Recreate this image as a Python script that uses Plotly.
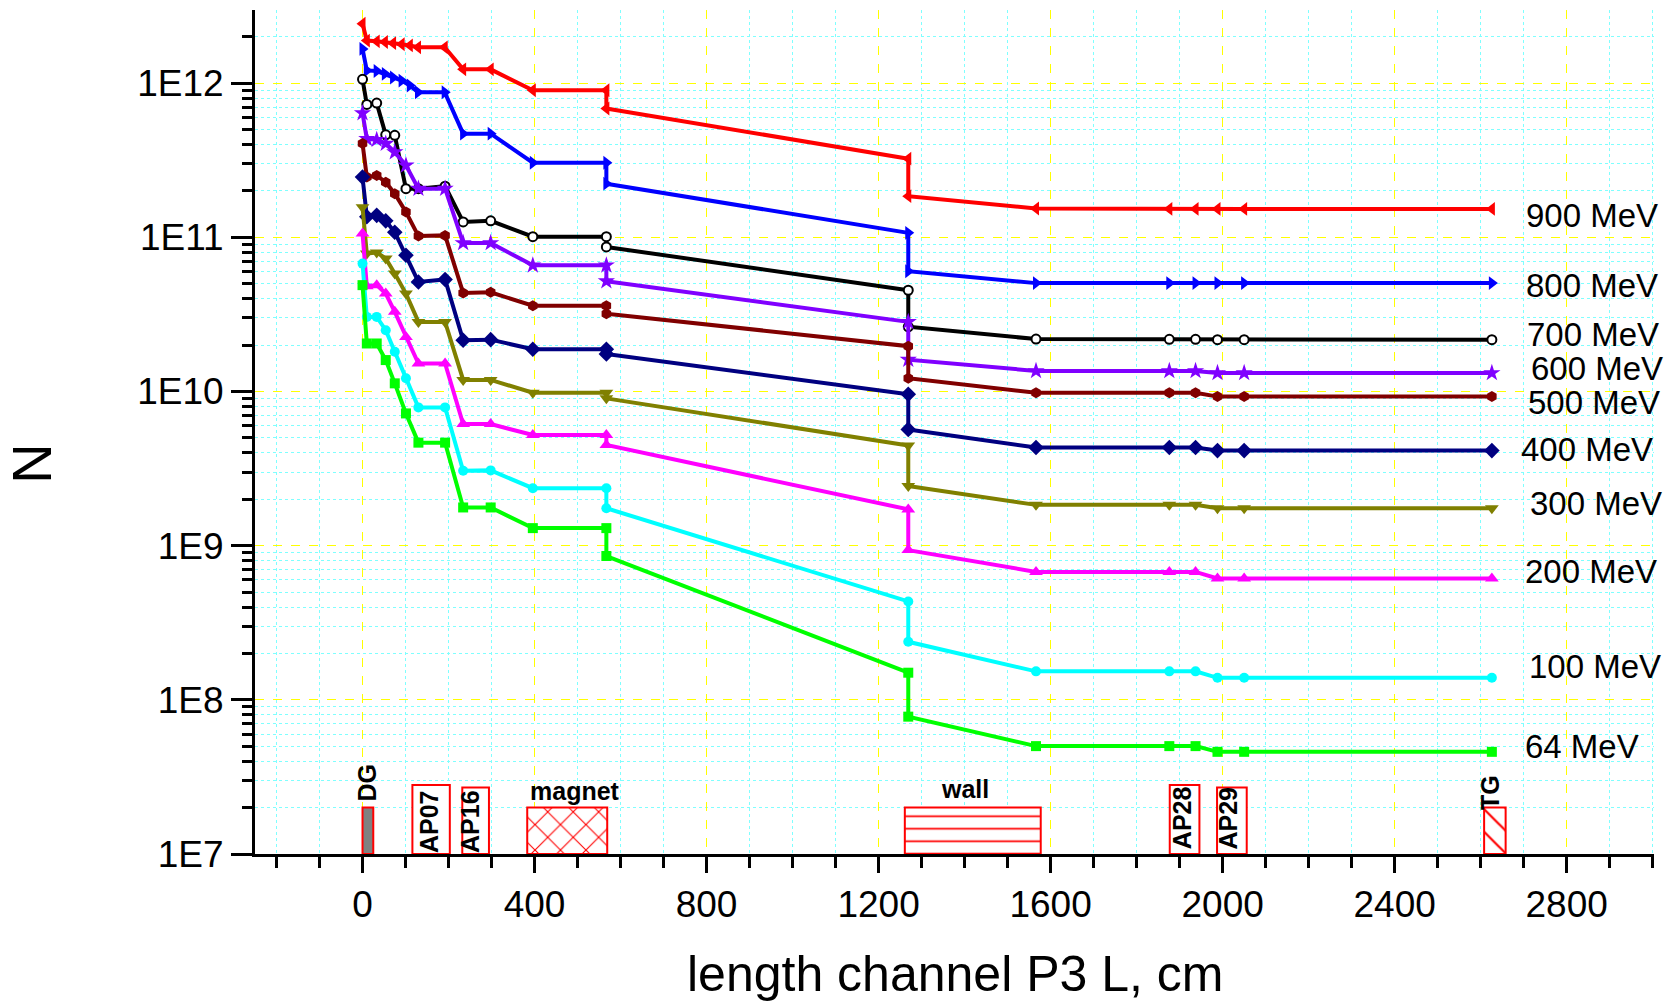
import plotly.graph_objects as go

# ---------------- data ----------------
x_fine = [0, 10, 33, 52, 71, 91, 110, 129, 191, 234, 298, 396, 567, 567, 1269, 1269, 1566, 1876, 1937, 1988, 2050, 2626]
x_std = [0, 10, 33, 54, 75, 101, 130, 192, 234, 298, 396, 567, 567, 1269, 1269, 1566, 1876, 1937, 1988, 2050, 2626]

n900 = [2.43e12, 1.89e12, 1.87e12, 1.85e12, 1.82e12, 1.79e12, 1.76e12, 1.71e12, 1.71e12, 1.23e12, 1.23e12,
        9.0e11, 9.0e11, 6.85e11, 3.24e11, 1.85e11, 1.54e11, 1.53e11, 1.53e11, 1.53e11, 1.53e11, 1.53e11]
n800 = [1.67e12, 1.21e12, 1.20e12, 1.15e12, 1.09e12, 1.04e12, 9.67e11, 8.74e11, 8.74e11, 4.71e11, 4.71e11,
        3.05e11, 3.05e11, 2.23e11, 1.07e11, 6.03e10, 5.05e10, 5.05e10, 5.05e10, 5.05e10, 5.05e10, 5.05e10]
n700 = [1.06e12, 7.28e11, 7.43e11, 4.63e11, 4.59e11, 2.07e11, 2.07e11, 2.15e11, 1.26e11, 1.28e11, 1.01e11,
        1.01e11, 8.67e10, 4.54e10, 2.63e10, 2.19e10, 2.18e10, 2.18e10, 2.17e10, 2.17e10, 2.17e10]
n600 = [6.4e11, 4.36e11, 4.3e11, 4.06e11, 3.57e11, 2.93e11, 2.07e11, 2.07e11, 9.2e10, 9.2e10, 6.59e10,
        6.59e10, 5.2e10, 2.83e10, 1.61e10, 1.36e10, 1.36e10, 1.36e10, 1.32e10, 1.32e10, 1.32e10]
n500 = [4.06e11, 2.46e11, 2.52e11, 2.28e11, 1.92e11, 1.46e11, 1.02e11, 1.03e11, 4.36e10, 4.4e10, 3.6e10,
        3.6e10, 3.2e10, 1.97e10, 1.22e10, 9.82e9, 9.82e9, 9.82e9, 9.27e9, 9.27e9, 9.27e9]
n400 = [2.46e11, 1.36e11, 1.39e11, 1.28e11, 1.08e11, 7.66e10, 5.14e10, 5.33e10, 2.15e10, 2.17e10, 1.88e10,
        1.88e10, 1.75e10, 9.6e9, 5.68e9, 4.33e9, 4.33e9, 4.33e9, 4.14e9, 4.14e9, 4.14e9]
n300 = [1.57e11, 7.85e10, 7.99e10, 7.3e10, 5.83e10, 4.32e10, 2.83e10, 2.83e10, 1.19e10, 1.19e10, 9.82e9,
        9.82e9, 9.03e9, 4.47e9, 2.44e9, 1.84e9, 1.84e9, 1.84e9, 1.75e9, 1.75e9, 1.75e9]
n200 = [1.06e11, 4.82e10, 4.9e10, 4.32e10, 3.29e10, 2.26e10, 1.52e10, 1.52e10, 6.15e9, 6.15e9, 5.22e9,
        5.22e9, 4.5e9, 1.72e9, 9.36e8, 6.76e8, 6.76e8, 6.76e8, 6.13e8, 6.13e8, 6.13e8]
n100 = [6.76e10, 3.05e10, 3.05e10, 2.5e10, 1.81e10, 1.22e10, 7.89e9, 7.89e9, 3.06e9, 3.08e9, 2.36e9,
        2.36e9, 1.75e9, 4.35e8, 2.38e8, 1.53e8, 1.53e8, 1.53e8, 1.39e8, 1.39e8, 1.39e8]
n64 = [4.9e10, 2.05e10, 2.05e10, 1.6e10, 1.13e10, 7.21e9, 4.66e9, 4.66e9, 1.77e9, 1.77e9, 1.3e9,
       1.3e9, 8.57e8, 1.5e8, 7.78e7, 5.01e7, 5.01e7, 5.01e7, 4.6e7, 4.6e7, 4.6e7]

series_labels = ["900 MeV", "800 MeV", "700 MeV", "600 MeV", "500 MeV",
                 "400 MeV", "300 MeV", "200 MeV", "100 MeV", "64 MeV"]

# beamline elements (x from, x to, top value)
elem_names = ["DG", "AP07", "AP16", "magnet", "wall", "AP28", "AP29", "TG"]
elem_x0 = [0, 116, 232, 383, 1261, 1877, 1987, 2608]
elem_x1 = [25, 203, 294, 569, 1577, 1946, 2056, 2658]
elem_top = [2.0e7, 2.8e7, 2.7e7, 2.0e7, 2.0e7, 2.8e7, 2.7e7, 2.0e7]
elem_base = 1e7

x_major_ticks = [0, 400, 800, 1200, 1600, 2000, 2400, 2800]
y_major_ticks = [1e7, 1e8, 1e9, 1e10, 1e11, 1e12]
y_tick_text = ["1E7", "1E8", "1E9", "1E10", "1E11", "1E12"]

# ---------------- styles ----------------
FONT = "Liberation Sans, Arial, sans-serif"
styles = [
    ("#FF0000", "triangle-left", 12, None),
    ("#0000FF", "triangle-right", 12, None),
    ("#000000", "circle", 9, "open"),
    ("#8000FF", "star", 13, None),
    ("#800000", "hexagon", 11, None),
    ("#000080", "diamond", 12, None),
    ("#808000", "triangle-down", 12, None),
    ("#FF00FF", "triangle-up", 12, None),
    ("#00FFFF", "circle", 10, None),
    ("#00FF00", "square", 10, None),
]
series_y = [n900, n800, n700, n600, n500, n400, n300, n200, n100, n64]
series_x = [x_fine, x_fine] + [x_std] * 8

elem_style = {
    "DG": dict(color="#808080", pattern=None),
    "AP07": dict(color="white", pattern=None),
    "AP16": dict(color="white", pattern=None),
    "magnet": dict(color="white", pattern=dict(shape="x", fgcolor="#FF0000", bgcolor="white", size=18, solidity=0.12)),
    "wall": dict(color="white", pattern=dict(shape="-", fgcolor="#FF0000", bgcolor="white", size=12.5, solidity=0.14)),
    "AP28": dict(color="white", pattern=None),
    "AP29": dict(color="white", pattern=None),
    "TG": dict(color="white", pattern=dict(shape="\\", fgcolor="#FF0000", bgcolor="white", size=16, solidity=0.14)),
}
elem_label_pos = {  # (x, log10 y, angle)
    "DG": (11, 7.465, -90),
    "AP07": (156, 7.211, -90),
    "AP16": (251, 7.211, -90),
    "magnet": (493, 7.41, 0),
    "wall": (1401, 7.423, 0),
    "AP28": (1904, 7.235, -90),
    "AP29": (2012, 7.235, -90),
    "TG": (2622, 7.397, -90),
}
label_pos = [(2700, 11.143), (2700, 10.690), (2703, 10.372), (2712, 10.152), (2705, 9.928),
             (2688, 9.625), (2709, 9.275), (2698, 8.831), (2708, 8.218), (2698, 7.700)]

fig = go.Figure()

# beamline elements as bars
for name, a, b, top in zip(elem_names, elem_x0, elem_x1, elem_top):
    st = elem_style[name]
    marker = dict(color=st["color"], line=dict(color="#FF0000", width=2))
    if st["pattern"]:
        marker["pattern"] = dict(fillmode="replace", **st["pattern"])
    fig.add_trace(go.Bar(x=[(a + b) / 2], y=[top - elem_base], base=[elem_base], width=[b - a],
                         marker=marker, showlegend=False, hoverinfo="skip"))

# curves
for (color, sym, size, fill), xs, ys in zip(styles, series_x, series_y):
    if fill == "open":
        mk = dict(symbol=sym, size=size, color="white", line=dict(color=color, width=2))
    else:
        mk = dict(symbol=sym, size=size, color=color, line=dict(width=0))
    fig.add_trace(go.Scatter(x=xs, y=ys, mode="lines+markers", line=dict(color=color, width=4),
                             marker=mk, showlegend=False, hoverinfo="skip", cliponaxis=False))

# series labels
for txt, (lx, ly) in zip(series_labels, label_pos):
    fig.add_annotation(x=lx, y=ly, xref="x", yref="y", text=txt, showarrow=False,
                       xanchor="left", yanchor="middle", font=dict(family=FONT, size=33, color="black"))

# element labels
for name in elem_names:
    lx, ly, ang = elem_label_pos[name]
    fig.add_annotation(x=lx, y=ly, xref="x", yref="y", text="<b>%s</b>" % name, showarrow=False,
                       textangle=ang, xanchor="center", yanchor="middle",
                       font=dict(family=FONT, size=25, color="black"))

# axis titles
fig.add_annotation(x=0.5, y=-0.1418, xref="paper", yref="paper", text="length channel P3 L, cm",
                   showarrow=False, xanchor="center", yanchor="middle",
                   font=dict(family=FONT, size=50, color="black"))
fig.add_annotation(x=-0.1594, y=0.4623, xref="paper", yref="paper", text="N", textangle=-90,
                   showarrow=False, xanchor="center", yanchor="middle",
                   font=dict(family=FONT, size=56, color="black"))

x_minor = [v for v in range(-200, 3001, 100) if v % 400 != 0]
y_minor = [k * 10 ** e for e in range(7, 12) for k in range(2, 10)] + [2e12, 3e12]

fig.update_layout(
    width=1675, height=1003,
    margin=dict(l=255, r=21, t=10, b=149),
    paper_bgcolor="white", plot_bgcolor="white",
    barmode="overlay", hovermode=False, showlegend=False,
    font=dict(family=FONT, color="black"),
    xaxis=dict(
        range=[-250, 3003], showline=True, linecolor="black", linewidth=3, zeroline=False,
        tickmode="array", tickvals=x_major_ticks, ticks="outside", ticklen=16, tickwidth=3, tickcolor="black",
        tickfont=dict(family=FONT, size=37, color="black"),
        showgrid=True, gridcolor="#FFFF00", griddash="dash", gridwidth=1,
        minor=dict(tickmode="array", tickvals=x_minor, ticks="outside", ticklen=11, tickwidth=3, tickcolor="black",
                   showgrid=True, gridcolor="#7FFFFF", griddash="dot", gridwidth=1),
    ),
    yaxis=dict(
        type="log", range=[7, 12.475], showline=True, linecolor="black", linewidth=3, zeroline=False,
        tickmode="array", tickvals=y_major_ticks, ticktext=y_tick_text,
        ticks="outside", ticklen=21, tickwidth=3, tickcolor="black",
        tickfont=dict(family=FONT, size=37, color="black"),
        showgrid=True, gridcolor="#FFFF00", griddash="dash", gridwidth=1,
        minor=dict(tickmode="array", tickvals=y_minor, ticks="outside", ticklen=10, tickwidth=3, tickcolor="black",
                   showgrid=True, gridcolor="#7FFFFF", griddash="dot", gridwidth=1),
    ),
)

fig.write_html("out.html")
